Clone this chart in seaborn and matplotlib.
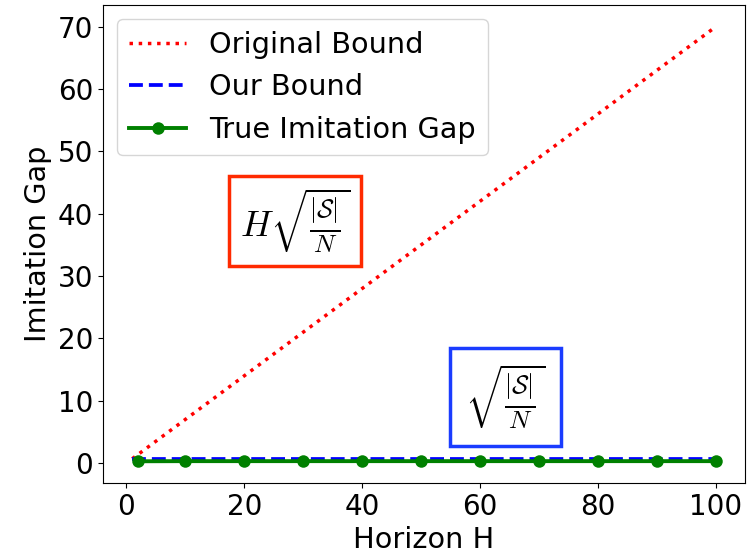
import matplotlib
matplotlib.use("Agg")
import matplotlib.pyplot as plt
import seaborn as sns
import pandas as pd

# Data
bound_h = [1, 100]
original_bound = [0.7, 70.0]
our_bound = [0.7, 0.7]
gap_h = [2, 10, 20, 30, 40, 50, 60, 70, 80, 90, 100]
true_gap = [0.3, 0.32, 0.32, 0.32, 0.32, 0.32, 0.32, 0.32, 0.32, 0.32, 0.32]

x_ticks = [0, 20, 40, 60, 80, 100]
y_ticks = [0, 10, 20, 30, 40, 50, 60, 70]

plt.rcParams['mathtext.fontset'] = 'cm'
plt.rcParams['font.family'] = ['DejaVu Sans']

fig = plt.figure(figsize=(7.47, 5.56), dpi=100)
ax = fig.add_axes([0.1379, 0.1313, 0.9973 - 0.1379, 0.991 - 0.1313])

sns.lineplot(x=bound_h, y=original_bound, ax=ax, color='red', linestyle=':',
             linewidth=2.5, label='Original Bound')
sns.lineplot(x=bound_h, y=our_bound, ax=ax, color='blue', linestyle='--',
             linewidth=2.7, label='Our Bound')
sns.lineplot(x=gap_h, y=true_gap, ax=ax, color='green', linestyle='-',
             linewidth=2.8, marker='o', markersize=9, markeredgewidth=0,
             label='True Imitation Gap')

ax.set_xticks(x_ticks)
ax.set_yticks(y_ticks)
ax.tick_params(labelsize=20)
ax.set_xlabel('Horizon H', fontsize=20.7)
ax.set_ylabel('Imitation Gap', fontsize=20.7)
ax.legend(loc='upper left', fontsize=20.7)

ax.text(28.6, 38.8, r'$H\sqrt{\frac{|\mathcal{S}|}{N}}$', fontsize=26,
        ha='center', va='center',
        bbox=dict(boxstyle='square,pad=0.3', facecolor='white',
                  edgecolor='#ff2a00', linewidth=2.5))
ax.text(64.3, 10.6, r'$\sqrt{\frac{|\mathcal{S}|}{N}}$', fontsize=26,
        ha='center', va='center',
        bbox=dict(boxstyle='square,pad=0.42', facecolor='white',
                  edgecolor='#1a3cff', linewidth=2.5))

fig.savefig('out.png', dpi=100)
